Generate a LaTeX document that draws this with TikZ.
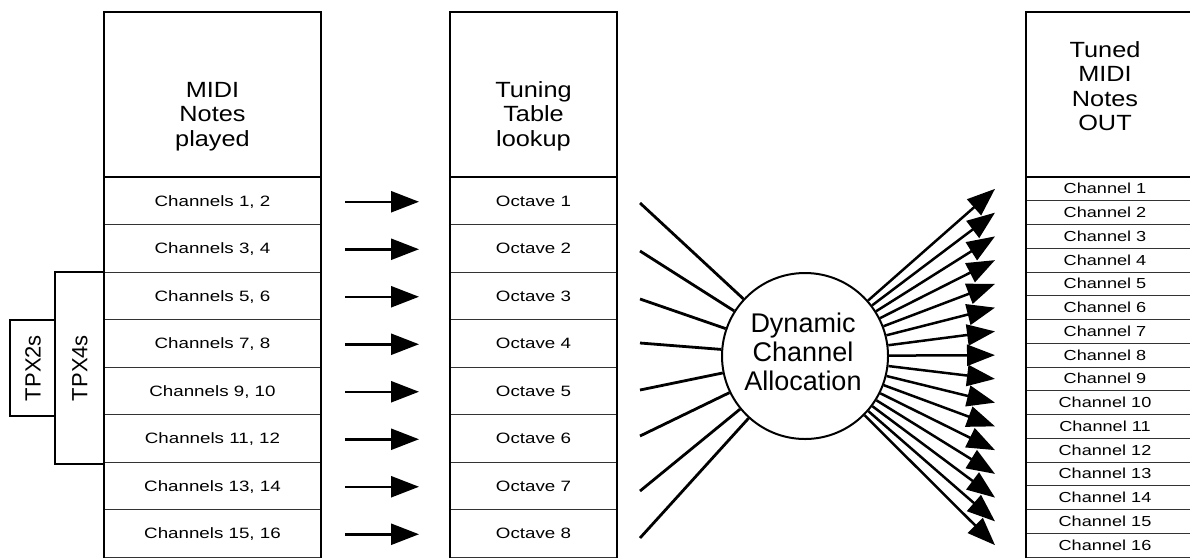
\documentclass[tikz,border=0pt]{standalone}
\usepackage{fontspec}
\setmainfont{Liberation Sans}
\newfontfamily\wf[FakeStretch=1.25]{Liberation Sans}
\newfontfamily\hf[FakeStretch=1.15]{Liberation Sans}
\usetikzlibrary{arrows.meta}
\begin{document}
\begin{tikzpicture}[x=1pt,y=-1pt,
  outer/.style={line width=2.5pt, line join=miter},
  rowline/.style={line width=0.9pt, draw=black!80},
  hdr/.style={font=\hf\fontsize{22}{24}\selectfont, anchor=base, inner sep=0pt},
  cell/.style={font=\wf\fontsize{15}{18}\selectfont, anchor=base, inner sep=0pt},
  rcell/.style={font=\wf\fontsize{14.5}{17}\selectfont, anchor=base, inner sep=0pt},
  ctext/.style={font=\fontsize{27}{29}\selectfont, anchor=base, inner sep=0pt},
  tpx/.style={font=\fontsize{22}{24}\selectfont, rotate=90, inner sep=0pt},
  flow/.style={line width=2.5pt, -{Triangle[length=28pt,width=21pt]}},
  spoke/.style={line width=2.8pt},
]
\useasboundingbox (0,0) rectangle (1190,558);

% ---------- left box ----------
\foreach \i in {1,...,7} \draw[rowline] (104,177+47.5*\i) -- (321,177+47.5*\i);
\draw[rowline] (104,557.5) -- (321,557.5);
\draw[outer] (104,558) -- (104,12) -- (321,12) -- (321,558);
\draw[outer] (104,177) -- (321,177);
\node[hdr] (h1a) at (212.5,97) {MIDI};
\node[hdr] (h1b) at (212.5,121.5) {Notes};
\node[hdr] (h1c) at (212.5,146) {played};
\foreach \i/\a/\b in {1/1/2,2/3/4,3/5/6,4/7/8,5/9/10,6/11/12,7/13/14,8/15/16}
  \node[cell] (ch\i) at (212.5,158.75+47.5*\i) {Channels \a, \b};

% ---------- TPX boxes ----------
\draw[outer] (104,272) -- (55,272) -- (55,464) -- (104,464);
\draw[outer] (55,320) -- (10,320) -- (10,416) -- (55,416);
\node[tpx] (tpx4) at (80,368) {TPX4s};
\node[tpx] (tpx2) at (33,368) {TPX2s};

% ---------- middle box ----------
\foreach \i in {1,...,7} \draw[rowline] (450,177+47.5*\i) -- (617,177+47.5*\i);
\draw[rowline] (450,557.5) -- (617,557.5);
\draw[outer] (450,558) -- (450,12) -- (617,12) -- (617,558);
\draw[outer] (450,177) -- (617,177);
\node[hdr] (h2a) at (533.5,97) {Tuning};
\node[hdr] (h2b) at (533.5,121.5) {Table};
\node[hdr] (h2c) at (533.5,146) {lookup};
\foreach \i in {1,...,8}
  \node[cell] (oct\i) at (533.5,158.75+47.5*\i) {Octave \i};

% ---------- arrows left -> middle ----------
\foreach \i in {1,...,8} {
  \coordinate (as\i) at (345,154.25+47.5*\i);
  \coordinate (ae\i) at (419,154.25+47.5*\i);
  \draw[flow] (as\i) -- (ae\i);
}

% ---------- right box ----------
\foreach \i in {1,...,15} \draw[rowline] (1026,177+23.75*\i) -- (1190,177+23.75*\i);
\draw[rowline] (1026,557.5) -- (1190,557.5);
\draw[outer] (1026,558) -- (1026,12) -- (1190,12);
\draw[outer] (1026,177) -- (1190,177);
\node[hdr] (h3a) at (1105,57) {Tuned};
\node[hdr] (h3b) at (1105,81.5) {MIDI};
\node[hdr] (h3c) at (1105,106) {Notes};
\node[hdr] (h3d) at (1105,130.5) {OUT};
\foreach \i in {1,...,16}
  \node[rcell] (out\i) at (1105,170.2+23.75*\i) {Channel \i};

% ---------- circle ----------
\node[circle, draw, line width=2pt, minimum size=166pt, inner sep=0pt] (circ) at (805,356) {};
\node[ctext] (d1) at (803,332) {Dynamic};
\node[ctext] (d2) at (803,361) {Channel};
\node[ctext] (d3) at (803,390) {Allocation};

% spokes in
\foreach \i/\y in {1/203,2/251,3/299,4/343,5/390,6/436,7/491,8/538} {
  \coordinate (l\i) at (640,\y);
  \draw[spoke] (l\i) -- (circ);
}
% arrows out
\foreach \i in {1,...,16} {
  \coordinate (r\i) at (995,165.125+23.75*\i);
  \draw[flow] (circ) -- (r\i);
}
\end{tikzpicture}
\end{document}
